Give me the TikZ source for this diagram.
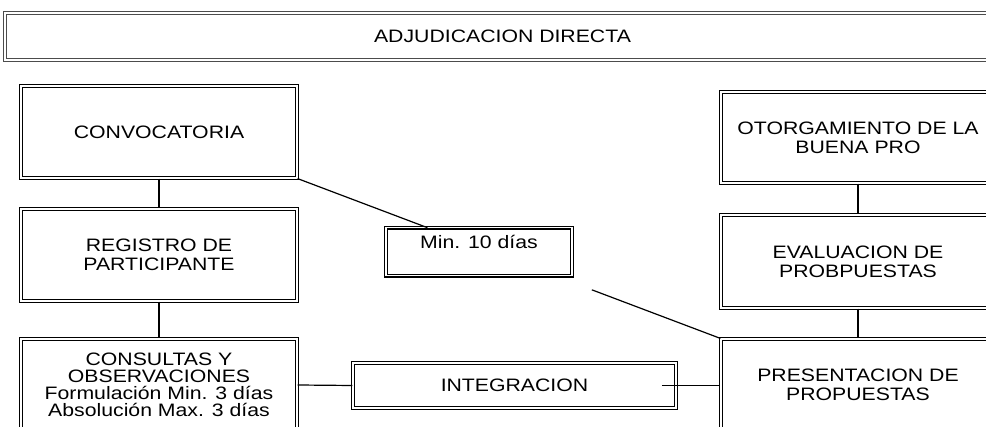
\documentclass[tikz,border=0pt]{standalone}
\usepackage{fontspec}
\setmainfont{Liberation Sans}[FakeStretch=1.18]
\usetikzlibrary{calc}

\begin{document}
\begin{tikzpicture}[x=0.75pt,y=-0.75pt,
		caja/.style={draw,double,line width=0.9pt,double distance=1.2pt,fill=white,
			align=center,inner sep=0pt,font=\fontsize{13.5pt}{14.5pt}\selectfont},
		linea/.style={line width=0.9pt}]
		%%%%% START %%%%%
		\useasboundingbox (0,0) rectangle (986,427);
		\clip (0,0) rectangle (986,427);
		\fill[white] (0,0) rectangle (986,427);
		
		\node[caja,draw=black!70,line width=1.2pt,minimum width=746.25pt,minimum height=35.25pt] (titulo) at (502.5,36.5) {ADJUDICACION DIRECTA};
		
		\node[caja,minimum width=207pt,minimum height=69pt] (conv) at (159,132) {CONVOCATORIA};
		\node[caja,minimum width=207pt,minimum height=69pt] (reg) at (159,255) {REGISTRO DE\\PARTICIPANTE};
		\node[caja,minimum width=207pt,minimum height=69pt,font=\fontsize{13.5pt}{12.6pt}\selectfont] (cons) at (159,385) {CONSULTAS Y\\OBSERVACIONES\\Formulación Min. 3 días\\Absolución Max. 3 días};
		
		\node[caja,anchor=north,minimum width=139.5pt,text height=15.75pt,text depth=20.25pt] (min) at (479,227) {Min. 10 días};
		\node[caja,minimum width=242.25pt,minimum height=33.75pt] (inte) at (514.5,385.5) {INTEGRACION};
		
		\node[caja,minimum width=205.5pt,minimum height=68.25pt] (otor) at (858,137.5) {OTORGAMIENTO DE LA\\BUENA PRO};
		\node[caja,minimum width=205.5pt,minimum height=69.75pt] (eval) at (858,261.5) {EVALUACION DE\\PROBPUESTAS};
		\node[caja,minimum width=205.5pt,minimum height=69pt] (pres) at (858,385) {PRESENTACION DE\\PROPUESTAS};
		
		\draw[linea] (conv.south) -- (reg.north);
		\draw[linea] (reg.south) -- (cons.north);
		\draw[linea] (otor.south) -- (eval.north);
		\draw[linea] (eval.south) -- (pres.north);
		\draw[linea] (conv.south east) -- ($(conv.south east)!0.307!(pres.north west)$);
		\draw[linea] ($(conv.south east)!0.696!(pres.north west)$) -- (pres.north west);
		\draw[linea] (cons.east) -- (inte.west);
		\draw[linea] ([xshift=-11pt]inte.east) -- (inte.east -| pres.west);
		%%%%% END %%%%%
\end{tikzpicture}
\end{document}
